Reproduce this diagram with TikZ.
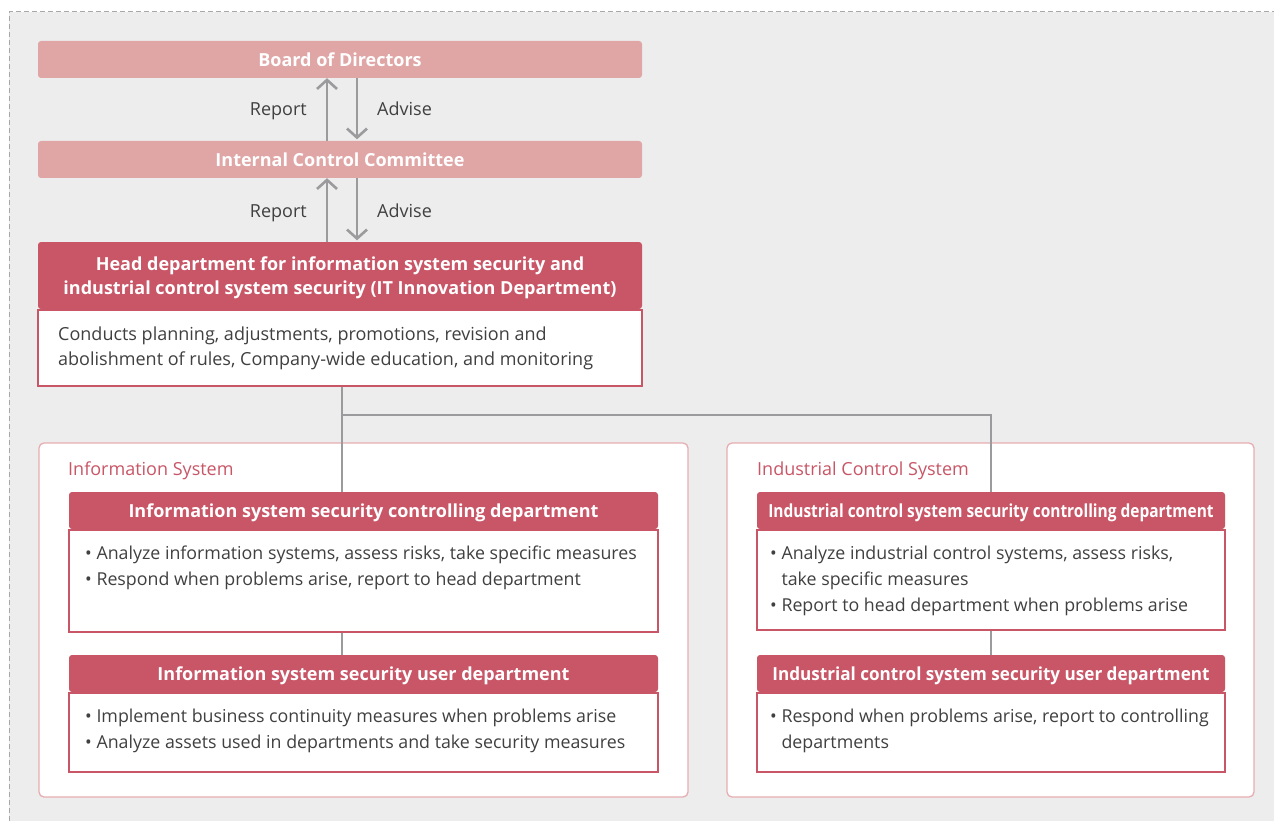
\documentclass[tikz,border=0pt]{standalone}
\usepackage{fontspec}
\setmainfont{Open Sans}
\usetikzlibrary{arrows.meta,calc}
\definecolor{bg}{HTML}{EDEDED}
\definecolor{lpink}{HTML}{E0A6A6}
\definecolor{dpink}{HTML}{C95667}
\definecolor{gborder}{HTML}{E6AEB2}
\definecolor{arrgray}{HTML}{9B9B9D}
\definecolor{txt}{HTML}{404040}
\definecolor{dashgray}{HTML}{A8A8A8}
\tikzset{
  lbar/.style={fill=lpink, text=white, font=\bfseries\fontsize{18}{22}\selectfont, minimum width=604pt, minimum height=37pt, rounded corners=3pt, inner sep=0pt, text height=13.7pt, text depth=0pt},
  hdrbox/.style={fill=dpink, rounded corners=3pt, inner sep=0pt},
  hdr/.style={hdrbox, text=white, font=\bfseries\fontsize{18}{24}\selectfont, align=center, text height=14.4pt, text depth=0pt},
  hdrtext/.style={text=white, font=\bfseries\fontsize{18}{24}\selectfont, align=center, inner sep=0pt},
  bodybox/.style={draw=dpink, fill=white, line width=1.3pt, inner sep=0pt},
  group/.style={draw=gborder, fill=white, line width=1.3pt, rounded corners=5pt, inner sep=0pt},
  glabel/.style={text=dpink, font=\fontsize{18}{22}\selectfont, inner sep=0pt, anchor=west, text height=13.5pt, text depth=0pt},
  btext/.style={text=txt, font=\fontsize{17.8}{26.3}\selectfont, inner sep=0pt, align=left, anchor=north west},
  flow/.style={text=txt, font=\fontsize{18}{22}\selectfont, inner sep=0pt, text height=13.5pt, text depth=0pt},
  arr/.style={draw=arrgray, line width=2.6pt, -{Straight Barb[length=9pt,width=20pt,line width=2.6pt]}},
  conn/.style={draw=arrgray, line width=2.6pt},
}
\begin{document}
\begin{tikzpicture}[x=1pt,y=-1pt]
\useasboundingbox (0,0) rectangle (1274,821);
\fill[bg] (9,12) rectangle (1274,821);
\draw[dashgray, line width=1pt, dash pattern=on 5pt off 3pt] (9,821) -- (9,12) -- (1274,12);

% top chain
\node[lbar] (board) at (340,59.5) {Board of Directors};
\node[lbar] (icc) at (340,159.5) {Internal Control Committee};
\node[hdrbox, minimum width=604pt, minimum height=67pt] (headh) at (340,275.5) {};
\node[hdrtext] (headht) at ([yshift=-2pt]headh.center)
  {Head department for information system security and\\industrial control system security (IT Innovation Department)};
\node[bodybox, minimum width=604pt, minimum height=76pt, anchor=north] (headb) at (headh.south) {};
\node[btext, font=\fontsize{18}{25}\selectfont] (headt) at (58,326.5) {Conducts planning, adjustments, promotions, revision and\\abolishment of rules, Company-wide education, and monitoring};

\draw[arr] ([xshift=-13pt]icc.north) -- ([xshift=-13pt]board.south);
\draw[arr] ([xshift=17pt]board.south) -- ([xshift=17pt,yshift=1.5pt]icc.north);
\draw[arr] ([xshift=-13pt]headh.north) -- ([xshift=-13pt]icc.south);
\draw[arr] ([xshift=17pt]icc.south) -- ([xshift=17pt,yshift=1.5pt]headh.north);
\node[flow, anchor=east] (rep1) at (307,109) {Report};
\node[flow, anchor=west] (adv1) at (377,109) {Advise};
\node[flow, anchor=east] (rep2) at (307,211) {Report};
\node[flow, anchor=west] (adv2) at (377,211) {Advise};

% groups
\node[group, minimum width=649pt, minimum height=354pt] (infog) at (363.5,620) {};
\node[group, minimum width=527pt, minimum height=354pt] (indg) at (990.5,620) {};
\node[glabel] (infol) at (68,469) {Information System};
\node[glabel] (indl) at (757,469) {Industrial Control System};

% information system
\node[hdr, minimum width=589pt, minimum height=37pt] (infoch) at (363.5,510.5) {Information system security controlling department};
\node[bodybox, minimum width=589pt, minimum height=102pt, anchor=north] (infocb) at (infoch.south) {};
\node[btext] (infoct) at (85,545.5) {• Analyze information systems, assess risks, take specific measures\\• Respond when problems arise, report to head department};
\node[hdr, minimum width=589pt, minimum height=37pt] (infouh) at (363.5,673.5) {Information system security user department};
\node[bodybox, minimum width=589pt, minimum height=79pt, anchor=north] (infoub) at (infouh.south) {};
\node[btext] (infout) at (85,708.5) {• Implement business continuity measures when problems arise\\• Analyze assets used in departments and take security measures};

% industrial control system
\node[hdr, minimum width=468pt, minimum height=37pt] (indch) at (991,510.5) {\scalebox{0.86}[1]{Industrial control system security controlling department}};
\node[bodybox, minimum width=468pt, minimum height=100pt, anchor=north] (indcb) at (indch.south) {};
\node[btext] (indct) at (770,545.5) {• Analyze industrial control systems, assess risks,\\\phantom{• }take specific measures\\• Report to head department when problems arise};
\node[hdr, minimum width=468pt, minimum height=37pt] (induh) at (991,673.5) {\scalebox{0.95}[1]{Industrial control system security user department}};
\node[bodybox, minimum width=468pt, minimum height=79pt, anchor=north] (indub) at (induh.south) {};
\node[btext] (indut) at (770,708.5) {• Respond when problems arise, report to controlling\\\phantom{• }departments};

% connectors
\coordinate (junc) at (342,415);
\draw[conn] (headb.south -| junc) -- (junc) -- (infoch.north -| junc);
\draw[conn] (junc) -| (indch.north);
\draw[conn] (infocb.south -| junc) -- (infouh.north -| junc);
\draw[conn] (indcb.south) -- (induh.north);
\end{tikzpicture}
\end{document}
